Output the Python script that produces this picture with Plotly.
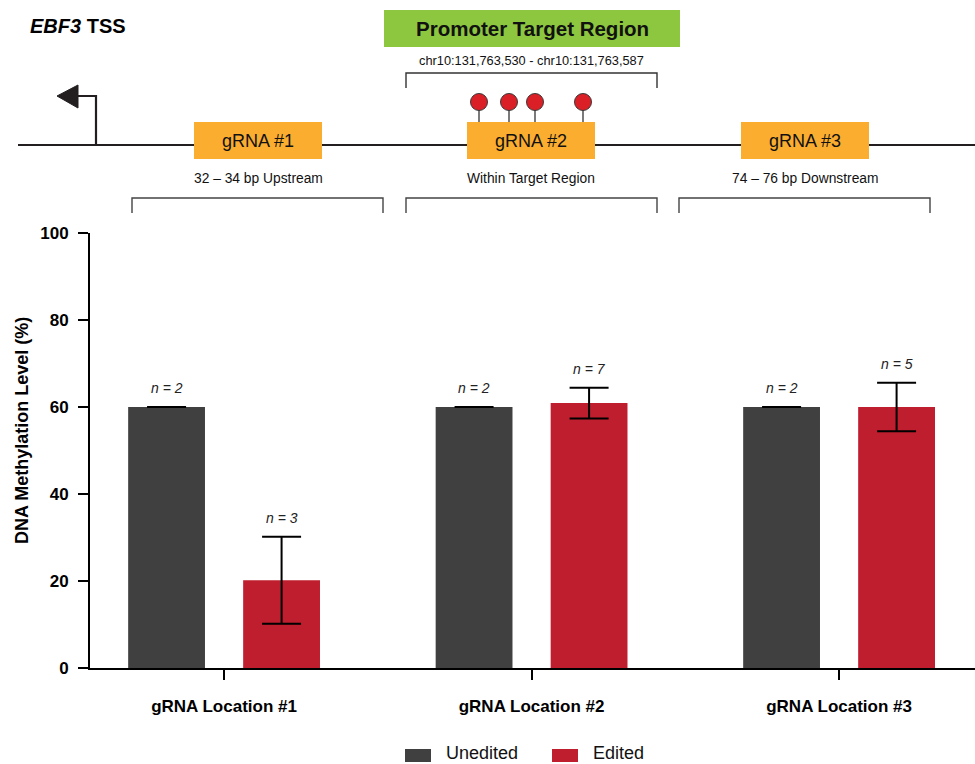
import plotly.graph_objects as go

# ---- data ----
locations = ["gRNA Location #1", "gRNA Location #2", "gRNA Location #3"]
unedited_mean = [60.0, 60.0, 60.0]
unedited_sd = [0.0, 0.0, 0.0]
unedited_n = [2, 2, 2]
edited_mean = [20.2, 60.9, 60.0]
edited_sd = [10.0, 3.55, 5.6]
edited_n = [3, 7, 5]

series_names = ["Unedited", "Edited"]
series_colors = ["#404040", "#BE1E2D"]

grna_labels = ["gRNA #1", "gRNA #2", "gRNA #3"]
grna_captions = ["32 – 34 bp Upstream", "Within Target Region", "74 – 76 bp Downstream"]
region_coords = "chr10:131,763,530 - chr10:131,763,587"

# ---- page geometry (pixels) ----
W, H = 975, 764
ML, MR, MT, MB = 90, 0, 233, 96
PW, PH = W - ML - MR, H - MT - MB
X_RANGE = [-0.436, 2.442]
BARGAP = 0.252
BARGROUPGAP = 0.332
FONT = "Arial, Liberation Sans, sans-serif"


def fx(p):
    """figure pixel x -> paper x"""
    return (p - ML) / PW


def fy(p):
    """figure pixel y (from top) -> paper y"""
    return (H - MB - p) / PH


x_idx = list(range(len(locations)))

fig = go.Figure()
for name, color, mean, sd in [
    (series_names[0], series_colors[0], unedited_mean, unedited_sd),
    (series_names[1], series_colors[1], edited_mean, edited_sd),
]:
    fig.add_trace(go.Bar(
        x=x_idx, y=mean, name=name, marker=dict(color=color, line=dict(width=0)),
        error_y=dict(type="data", array=sd, visible=True, color="#000000",
                     thickness=2, width=19.5),
        showlegend=False,
    ))

# sample-size labels above each error bar
slot = (1 - BARGAP) / 2
px_per_unit = PW / (X_RANGE[1] - X_RANGE[0])
annotations = []
for k, (mean, sd, ns) in enumerate([(unedited_mean, unedited_sd, unedited_n),
                                    (edited_mean, edited_sd, edited_n)]):
    shift = (-slot / 2 + k * slot) * px_per_unit
    for i in x_idx:
        annotations.append(dict(
            x=i, y=mean[i] + sd[i], xref="x", yref="y", xshift=shift, yshift=19,
            text=f"<i>n = {ns[i]}</i>", showarrow=False,
            font=dict(family=FONT, size=14, color="#222222"),
            xanchor="center", yanchor="middle"))

# y-axis title
annotations.append(dict(
    x=fx(22), y=fy(431), xref="paper", yref="paper", text="<b>DNA Methylation Level (%)</b>",
    textangle=-90, showarrow=False, font=dict(family=FONT, size=18, color="#000000"),
    xanchor="center", yanchor="middle"))

shapes = []
DARK = "#231F20"

# ---- gene schematic ----
# baseline
shapes.append(dict(type="line", xref="paper", yref="paper",
                   x0=fx(18), x1=fx(975), y0=fy(145), y1=fy(145),
                   line=dict(color=DARK, width=2.2), layer="below"))
# TSS arrow
shapes.append(dict(type="path", xref="paper", yref="paper",
                   path=f"M{fx(96)},{fy(145)} L{fx(96)},{fy(96)} L{fx(76)},{fy(96)}",
                   line=dict(color=DARK, width=2.2)))
shapes.append(dict(type="path", xref="paper", yref="paper",
                   path=f"M{fx(57)},{fy(96)} L{fx(78)},{fy(85)} L{fx(78)},{fy(108)} Z",
                   fillcolor=DARK, line=dict(color=DARK, width=1)))
annotations.append(dict(
    x=fx(28), y=fy(26), xref="paper", yref="paper", text="<b><i>EBF3</i> TSS</b>",
    showarrow=False, font=dict(family=FONT, size=20, color="#000000"),
    xanchor="left", yanchor="middle"))

# promoter target region banner
shapes.append(dict(type="rect", xref="paper", yref="paper",
                   x0=fx(384), x1=fx(680), y0=fy(10), y1=fy(47),
                   fillcolor="#8DC63F", line=dict(width=0)))
annotations.append(dict(
    x=fx(532), y=fy(28.5), xref="paper", yref="paper", text="<b>Promoter Target Region</b>",
    showarrow=False, font=dict(family=FONT, size=20.5, color="#111111"),
    xanchor="center", yanchor="middle"))
annotations.append(dict(
    x=fx(531), y=fy(61), xref="paper", yref="paper", text=region_coords,
    showarrow=False, font=dict(family=FONT, size=12.8, color="#111111"),
    xanchor="center", yanchor="middle"))


def bracket(x0, x1, ytop, ybot, color):
    return dict(type="path", xref="paper", yref="paper",
                path=(f"M{fx(x0)},{fy(ybot)} L{fx(x0)},{fy(ytop)} "
                      f"L{fx(x1)},{fy(ytop)} L{fx(x1)},{fy(ybot)}"),
                line=dict(color=color, width=1.4))


shapes.append(bracket(406, 657, 73, 88, "#333333"))

# CpG lollipops
for cx in [479, 509, 535, 583]:
    shapes.append(dict(type="line", xref="paper", yref="paper",
                       x0=fx(cx), x1=fx(cx), y0=fy(110), y1=fy(122),
                       line=dict(color="#333333", width=1.3)))
    shapes.append(dict(type="circle", xref="paper", yref="paper",
                       x0=fx(cx - 8.5), x1=fx(cx + 8.5), y0=fy(93.5), y1=fy(110.5),
                       fillcolor="#DA1F26", line=dict(color="#3a3a3a", width=1)))

# gRNA boxes, captions and brackets
box_x = [(194, 322), (467, 595), (741, 869)]
bracket_x = [(132, 383), (406, 657), (679, 930)]
for (bx0, bx1), (kx0, kx1), lab, cap in zip(box_x, bracket_x, grna_labels, grna_captions):
    shapes.append(dict(type="rect", xref="paper", yref="paper",
                       x0=fx(bx0), x1=fx(bx1), y0=fy(122), y1=fy(159),
                       fillcolor="#FBAD30", line=dict(width=0)))
    annotations.append(dict(
        x=fx((bx0 + bx1) / 2), y=fy(140.5), xref="paper", yref="paper", text=lab,
        showarrow=False, font=dict(family=FONT, size=18, color="#111111"),
        xanchor="center", yanchor="middle"))
    annotations.append(dict(
        x=fx((bx0 + bx1) / 2), y=fy(178), xref="paper", yref="paper", text=cap,
        showarrow=False, font=dict(family=FONT, size=13.8, color="#111111"),
        xanchor="center", yanchor="middle"))
    shapes.append(bracket(kx0, kx1, 198, 213, "#444444"))

# ---- legend ----
legend_items = [(405, series_names[0], series_colors[0]), (552, series_names[1], series_colors[1])]
for lx, name, color in legend_items:
    shapes.append(dict(type="rect", xref="paper", yref="paper",
                       x0=fx(lx), x1=fx(lx + 26), y0=fy(749), y1=fy(762),
                       fillcolor=color, line=dict(width=0)))
    annotations.append(dict(
        x=fx(lx + 40), y=fy(764), xref="paper", yref="paper", text=name,
        showarrow=False, font=dict(family=FONT, size=18, color="#111111"),
        xanchor="left", yanchor="bottom", borderpad=0))

fig.update_layout(
    width=W, height=H,
    margin=dict(l=ML, r=MR, t=MT, b=MB, pad=0),
    paper_bgcolor="#ffffff", plot_bgcolor="#ffffff",
    barmode="group", bargap=BARGAP, bargroupgap=BARGROUPGAP,
    font=dict(family=FONT, color="#000000"),
    shapes=shapes, annotations=annotations,
    showlegend=False,
)
fig.update_xaxes(
    range=X_RANGE, tickvals=x_idx, ticktext=[f"<b>{t}</b>" for t in locations],
    showline=True, linecolor="#000000", linewidth=2,
    ticks="outside", ticklen=10, tickwidth=1.5, tickcolor="#000000",
    tickfont=dict(family=FONT, size=17, color="#000000"),
    showgrid=False, zeroline=False, ticklabelstandoff=12,
)
fig.update_yaxes(
    range=[0, 100], tickvals=[0, 20, 40, 60, 80, 100],
    ticktext=[f"<b>{v}</b>" for v in [0, 20, 40, 60, 80, 100]],
    showline=True, linecolor="#000000", linewidth=2,
    ticks="outside", ticklen=10, tickwidth=2, tickcolor="#000000",
    tickfont=dict(family=FONT, size=17, color="#000000"),
    showgrid=False, zeroline=False, ticklabelstandoff=6,
)

fig.write_html("out.html")
